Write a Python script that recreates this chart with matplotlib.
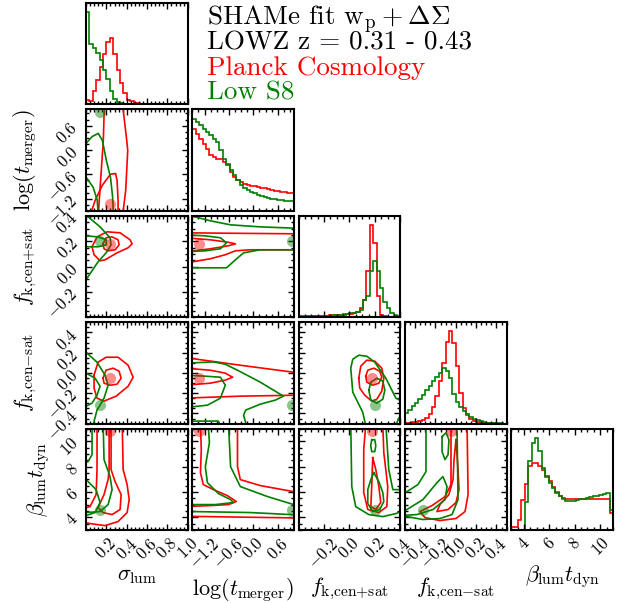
import numpy as np
import matplotlib
matplotlib.use("Agg")
import matplotlib.pyplot as plt
from matplotlib.ticker import FixedLocator, AutoMinorLocator, FuncFormatter, NullFormatter

plt.rcParams["font.family"] = "cmr10"
plt.rcParams["mathtext.fontset"] = "cm"
plt.rcParams["axes.unicode_minus"] = False

RED, GREEN = "#ff0000", "#008000"

# ---------------------------------------------------------------------------
# parameters
# ---------------------------------------------------------------------------
labels = [r"$\sigma_{\rm lum}$", r"$\log(t_{\rm merger})$", r"$f_{\rm k{,}cen{+}sat}$",
          r"$f_{\rm k{,}cen{-}sat}$", r"$\beta_{\rm lum}t_{\rm dyn}$"]
ranges = [(0.0, 1.0), (-1.5, 1.0), (-0.4, 0.4), (-0.5, 0.5), (3.0, 11.0)]
ticks = [[0.2, 0.4, 0.6, 0.8, 1.0], [-1.2, -0.6, 0.0, 0.6], [-0.2, 0.0, 0.2, 0.4],
         [-0.4, -0.2, 0.0, 0.2, 0.4], [4, 6, 8, 10]]
tick_fmt = ["{:.1f}", "{:.1f}", "{:.1f}", "{:.1f}", "{:.0f}"]
n_minor = [5, 4, 4, 4, 4]

red_best = [0.235, -1.33, 0.18, -0.05, 10.8]
green_best = [0.133, 0.94, 0.198, -0.32, 4.62]

# ---------------------------------------------------------------------------
# 1-D marginals (30 bins over each range, relative heights)
# ---------------------------------------------------------------------------
hist_red = [
    [0.05, 0.036, 0.15, 0.26, 0.41, 0.55, 0.68, 0.72, 0.55, 0.37, 0.23, 0.12, 0.05, 0.033, 0.018,
     0.011, 0.007, 0.004, 0.003, 0.002, 0.001, 0.001, 0, 0, 0, 0, 0, 0, 0, 0],
    [0.892, 0.838, 0.783, 0.729, 0.675, 0.603, 0.585, 0.567, 0.567, 0.531, 0.495, 0.422, 0.368,
     0.332, 0.314, 0.296, 0.285, 0.274, 0.264, 0.256, 0.249, 0.242, 0.235, 0.227, 0.220, 0.213,
     0.206, 0.199, 0.195, 0.191],
    [0.008, 0.009, 0.01, 0.011, 0.012, 0.014, 0.015, 0.017, 0.018, 0.02, 0.022, 0.024, 0.026, 0.028,
     0.03, 0.033, 0.044, 0.06, 0.10, 0.19, 0.50, 1.0, 0.81, 0.225, 0.025, 0.01, 0.005, 0.002,
     0.001, 0.0],
    [0.01, 0.01, 0.015, 0.02, 0.03, 0.04, 0.06, 0.10, 0.18, 0.30, 0.46, 0.66, 0.89, 1.0, 0.87,
     0.62, 0.33, 0.17, 0.09, 0.05, 0.03, 0.02, 0.012, 0.008, 0.005, 0.003, 0.002, 0.001, 0.001, 0.0],
    [0.036, 0.036, 0.11, 0.33, 0.50, 0.70, 0.727, 0.727, 0.69, 0.655, 0.59, 0.527, 0.465, 0.418,
     0.37, 0.345, 0.338, 0.335, 0.335, 0.335, 0.335, 0.335, 0.335, 0.335, 0.335, 0.335, 0.335,
     0.335, 0.335, 0.18],
]
hist_green = [
    [1.0, 0.66, 0.61, 0.56, 0.48, 0.37, 0.28, 0.15, 0.06, 0.025, 0.01, 0.005, 0.003, 0.002, 0.001,
     0, 0, 0, 0, 0, 0, 0, 0, 0, 0, 0, 0, 0, 0, 0],
    [1.0, 0.964, 0.928, 0.892, 0.856, 0.827, 0.783, 0.747, 0.657, 0.567, 0.513, 0.440, 0.386,
     0.332, 0.278, 0.242, 0.224, 0.206, 0.188, 0.173, 0.159, 0.148, 0.137, 0.130, 0.123, 0.116,
     0.112, 0.108, 0.105, 0.101],
    [0.005, 0.006, 0.007, 0.008, 0.009, 0.01, 0.012, 0.014, 0.016, 0.018, 0.02, 0.023, 0.026, 0.03,
     0.035, 0.045, 0.05, 0.06, 0.08, 0.19, 0.225, 0.50, 0.61, 0.50, 0.32, 0.17, 0.10, 0.044,
     0.025, 0.015],
    [0.12, 0.15, 0.19, 0.22, 0.27, 0.31, 0.36, 0.41, 0.46, 0.51, 0.55, 0.60, 0.57, 0.50, 0.32,
     0.24, 0.18, 0.14, 0.10, 0.07, 0.05, 0.035, 0.025, 0.018, 0.012, 0.008, 0.005, 0.003, 0.002,
     0.001],
    [0, 0, 0, 0.0, 0.30, 0.745, 0.945, 1.0, 0.855, 0.67, 0.58, 0.51, 0.455, 0.40, 0.364, 0.335,
     0.32, 0.316, 0.316, 0.327, 0.335, 0.342, 0.35, 0.357, 0.364, 0.371, 0.38, 0.39, 0.40, 0.22],
]

# ---------------------------------------------------------------------------
# 2-D contours: (x values, y values), (row, col) = (y par, x par)
# ---------------------------------------------------------------------------
p10_red = [([0.12, 0.13, 0.15, 0.17, 0.18, 0.27, 0.36, 0.40, 0.41, 0.39, 0.36, 0.24],
            [-1.6, -1.24, -0.5, 0.24, 1.1, 1.35, 1.1, 0.24, -0.01, -1.0, -1.6, -1.85]),
           ([0.04, 0.09, 0.16, 0.24, 0.29, 0.305, 0.315, 0.315, 0.18],
            [-1.61, -1.24, -0.87, -0.60, -0.58, -0.75, -1.24, -1.61, -1.86])]
p10_green = [([-0.06, 0.0, 0.06, 0.12, 0.16, 0.20, 0.24, 0.26, 0.27, -0.06],
              [0.11, 0.16, 0.33, 0.41, 0.24, -0.26, -0.67, -1.12, -1.61, -1.86]),
             ([-0.06, 0.0, 0.07, 0.11, 0.12, -0.06],
              [-0.65, -0.67, -0.92, -1.24, -1.61, -1.86])]

p20_red = [([.059, .108, .207, .335, .433, .453, .414, .305, .187, .138, .079],
            [.156, .234, .274, .266, .211, .179, .148, .108, .053, .045, .093]),
           ([.167, .197, .256, .315, .325, .286, .217, .177],
            [.179, .227, .234, .211, .171, .132, .124, .140])]
p20_green = [([-.059, .010, .138, .236, .246, .197, .118, .039, 0.0, -.059],
              [.432, .40, .313, .227, .171, .108, .037, -.057, -.104, -.144]),
             ([-.059, 0.0, .118, .20, .20, .118, 0.0, -.059],
              [.25, .242, .234, .211, .171, .156, .156, .156])]

p30_red = [([.079, .118, .197, .315, .414, .463, .414, .296, .177, .108, .079],
            [-.022, .106, .155, .155, .076, -.042, -.131, -.229, -.278, -.249, -.150]),
           ([.167, .197, .266, .325, .345, .305, .236, .177],
            [-.052, .027, .047, .017, -.052, -.111, -.121, -.101])]
p30_green = [([-.059, 0.0, .108, .187, .217, .177, .108, .069, -.059],
              [.224, .204, .106, -.022, -.121, -.249, -.367, -.515, -.564]),
             ([-.059, 0.0, .089, .138, .108, .059, 0.0, -.059],
              [.007, -.002, -.052, -.131, -.219, -.298, -.328, -.347])]

p40_red = [([.108, .108, .099, .039, -.059, -.059, .039, .187, .315, .404, .424, .404, .365, .355],
            [11.71, 7.77, 5.80, 4.85, 4.62, 3.67, 3.51, 3.35, 3.67, 4.38, 5.40, 6.59, 7.77, 11.71]),
           ([.246, .246, .286, .345, .335, .256, .167, .118, .177, .217, .227, .227],
            [11.71, 7.77, 6.82, 5.80, 4.62, 4.22, 4.38, 4.77, 5.80, 6.98, 7.77, 11.71])]
p40_green = [([.059, .059, .020, -.059, -.059, 0.0, .138, .217, .256, .236, .177, .167],
              [11.71, 8.95, 8.40, 8.16, 4.38, 4.38, 4.46, 5.01, 6.19, 7.22, 8.56, 11.71]),
             ([-.059, 0.0, .099, .138, .089, 0.0, -.059],
              [6.98, 6.98, 6.19, 5.17, 4.38, 4.14, 4.14])]

p21_red = [([-1.67, -0.32, 1.16, 1.16, -0.07, -0.44, -0.69, -1.06, -1.5, -1.67],
            [.266, .262, .258, .132, .132, .124, .093, .061, .037, .029]),
           ([-1.67, -1.06, -0.61, -0.44, -0.61, -1.06, -1.67],
            [.227, .211, .191, .179, .164, .140, .116])]
p21_green = [([-1.67, -1.43, -1.06, -0.56, 0.17, 1.16, 1.16, 0.17, -0.24, -0.44, -0.66, -1.30, -1.67],
              [.408, .392, .361, .329, .313, .301, .132, .132, .108, .053, -.010, -.010, -.010]),
             ([-1.67, -1.18, -0.81, -0.66, -0.81, -1.18, -1.67],
              [.250, .242, .227, .187, .140, .124, .116])]

p31_red = [([-1.67, -1.5, -0.32, 1.16, 1.16, -0.32, -1.5, -1.67],
            [.145, .142, .076, -.002, -.219, -.229, -.246, -.249]),
           ([-1.67, -1.06, -0.69, -0.51, -0.69, -1.06, -1.67],
            [.047, .027, -.002, -.042, -.071, -.101, -.121])]
p31_green = [([-1.67, -0.98, -0.69, -0.39, 0.17, 0.74, 0.54, 0.17, -0.19, -0.24, -0.14, -0.76, -0.86, -1.67],
              [.096, .109, .086, .027, -.091, -.229, -.268, -.308, -.367, -.416, -.564, -.564, -.475, -.475]),
             ([-1.67, -1.18, -0.81, -0.69, -0.81, -1.13, -1.5, -1.67],
              [-.022, -.032, -.042, -.121, -.249, -.318, -.334, -.337])]

p41_red = [([-0.39, -0.39, -0.32, 0.17, 0.99, 1.16, 1.16, -0.32, -1.50, -1.67, -1.67],
            [11.32, 8.00, 6.98, 6.51, 6.03, 5.96, 3.95, 4.02, 4.08, 4.10, 11.32]),
           ([-1.30, -1.28, -1.30, -1.23, -0.98, -0.64, -0.42, -0.61, -1.06, -1.67, -1.67],
            [11.32, 9.34, 7.53, 6.59, 6.19, 5.72, 5.25, 5.01, 4.93, 4.85, 11.32])]
p41_green = [([-0.61, -0.56, -0.32, 0.35, 0.99, 1.16, 1.16, -0.07, -1.50, -1.67, -1.67],
              [11.32, 8.00, 6.43, 5.64, 5.01, 4.93, 4.18, 4.38, 4.46, 4.46, 11.32]),
             ([-1.11, -1.08, -1.18, -1.13, -0.86, -0.56, -0.49, -0.93, -1.67, -1.67],
              [11.32, 9.90, 8.00, 6.74, 5.88, 5.40, 5.17, 5.01, 5.01, 11.32])]

p32_red = [([.073, .089, .136, .199, .254, .270, .254, .215, .175, .120, .081],
            [-.052, .067, .126, .116, .047, -.052, -.180, -.259, -.278, -.219, -.150]),
           ([.128, .144, .191, .238, .254, .231, .183, .136],
            [-.032, .027, .047, .017, -.042, -.101, -.121, -.091])]
p32_green = [([.136, .104, .026, .010, .026, .073, .136, .199, .286, .365, .443, .443, .388, .349],
              [-.564, -.387, -.190, .047, .135, .175, .165, .106, -.052, -.249, -.298, -.357, -.446, -.564]),
             ([.152, .168, .215, .262, .278, .262, .215, .168],
              [-.170, -.091, -.052, -.081, -.170, -.259, -.298, -.268])]

p42_red = [([.128, .112, .112, .144, .231, .294, .301, .270, .262],
            [11.32, 9.34, 5.96, 4.62, 4.38, 4.85, 6.43, 9.11, 11.32]),
           ([.183, .207, .231, .246, .207, .168, .175],
            [8.71, 7.77, 6.43, 5.17, 4.62, 4.85, 6.43])]
p42_green = [([.010, .018, .049, .152, .262, .365, .443, .443, .341, .309, .286],
              [11.32, 6.43, 4.85, 4.22, 4.06, 4.30, 4.62, 6.19, 6.19, 7.77, 11.32]),
             ([.191, .231, .262, .270, .238, .183, .144, .144, .168],
              [7.53, 6.82, 5.96, 5.25, 4.62, 4.46, 5.09, 6.19, 6.98]),
             ([.175, .199, .207, .199, .175, .167],
              [10.13, 10.13, 9.66, 9.19, 9.19, 9.66])]

p43_red = [([-.047, -.047, -.106, -.234, -.352, -.303, -.155, .002, .091, .121, .111],
            [11.32, 6.59, 5.64, 4.93, 4.46, 3.98, 3.75, 3.91, 4.46, 5.80, 11.32]),
           ([.002, .022, .032, .002, -.076, -.185, -.155, -.067, -.027, -.017],
            [10.13, 7.77, 6.19, 5.17, 4.62, 4.46, 5.01, 5.80, 6.98, 8.56])]
p43_green = [([-.293, -.293, -.372, -.480, -.549, -.549, -.480, -.323, -.155, -.037, .022, .012],
              [11.32, 7.61, 6.59, 6.03, 5.88, 4.06, 4.06, 3.83, 3.91, 4.22, 5.40, 11.32]),
             ([-.549, -.480, -.323, -.185, -.126, -.086, -.106, -.224, -.382, -.549],
              [4.46, 4.62, 5.40, 6.74, 7.22, 6.43, 5.40, 4.62, 4.22, 4.14]),
             ([-.135, -.096, -.067, -.076, -.106, -.135],
              [10.37, 10.68, 10.13, 8.95, 8.56, 9.19])]

contours = {
    (1, 0): (p10_red, p10_green), (2, 0): (p20_red, p20_green),
    (3, 0): (p30_red, p30_green), (4, 0): (p40_red, p40_green),
    (2, 1): (p21_red, p21_green), (3, 1): (p31_red, p31_green),
    (4, 1): (p41_red, p41_green), (3, 2): (p32_red, p32_green),
    (4, 2): (p42_red, p42_green), (4, 3): (p43_red, p43_green),
}


def closed(line):
    xs, ys = line
    return list(xs) + [xs[0]], list(ys) + [ys[0]]


def style_axis(axis, k, show_labels, rotate=45):
    axis.set_major_locator(FixedLocator(ticks[k]))
    axis.set_minor_locator(AutoMinorLocator(n_minor[k]))
    if show_labels:
        axis.set_major_formatter(FuncFormatter(lambda v, p, f=tick_fmt[k]: "$" + f.format(v) + "$"))
        for t in axis.get_ticklabels():
            t.set_rotation(rotate)
    else:
        axis.set_major_formatter(NullFormatter())


n = len(labels)
fig, axes = plt.subplots(n, n, figsize=(6.28, 6.03), dpi=100)
fig.subplots_adjust(left=0.137, right=0.976, bottom=0.121, top=0.995,
                    wspace=0.045, hspace=0.05)

for i in range(n):
    for j in range(n):
        ax = axes[i, j]
        if j > i:
            ax.axis("off")
            continue
        for s in ax.spines.values():
            s.set_linewidth(1.5)
        ax.set_xlim(*ranges[j])
        if i == j:
            edges = np.linspace(ranges[i][0], ranges[i][1], len(hist_red[i]) + 1)
            ax.stairs(hist_red[i], edges, color=RED, lw=1.2, baseline=None)
            ax.stairs(hist_green[i], edges, color=GREEN, lw=1.2, baseline=None)
            ax.set_ylim(0, 1.1 * max(max(hist_red[i]), max(hist_green[i])))
            ax.set_yticks([])
        else:
            reds, greens = contours[(i, j)]
            for line in reds:
                ax.plot(*closed(line), color=RED, lw=1.2, solid_joinstyle="round")
            for line in greens:
                ax.plot(*closed(line), color=GREEN, lw=1.2, solid_joinstyle="round")
            ax.plot(red_best[j], red_best[i], "o", color=RED, alpha=0.45, ms=8, mec="none")
            ax.plot(green_best[j], green_best[i], "o", color=GREEN, alpha=0.45, ms=8, mec="none")
            ax.set_ylim(*ranges[i])
            style_axis(ax.yaxis, i, j == 0)
            if j == 0:
                ax.set_ylabel(labels[i], fontsize=16, labelpad=4)
        style_axis(ax.xaxis, j, i == n - 1)
        if i == n - 1:
            ax.set_xlabel(labels[j], fontsize=16, labelpad=3)
        ax.tick_params(which="both", direction="in", top=True, right=(i != j),
                       labelsize=12, width=1.0)
        ax.tick_params(which="major", length=4.5)
        ax.tick_params(which="minor", length=2.3)

fig.text(0.33, 1 - 25 / 603, r"SHAMe fit $\mathrm{w_p}+\Delta\Sigma$", fontsize=19.5,
         va="baseline", color="black")
fig.text(0.33, 1 - 50 / 603, "LOWZ z = 0.31 - 0.43", fontsize=19.5, va="baseline", color="black")
fig.text(0.33, 1 - 75 / 603, "Planck Cosmology", fontsize=19.5, va="baseline", color=RED)
fig.text(0.33, 1 - 100 / 603, "Low S8", fontsize=19.5, va="baseline", color=GREEN)

fig.savefig("out.png", dpi=100)
